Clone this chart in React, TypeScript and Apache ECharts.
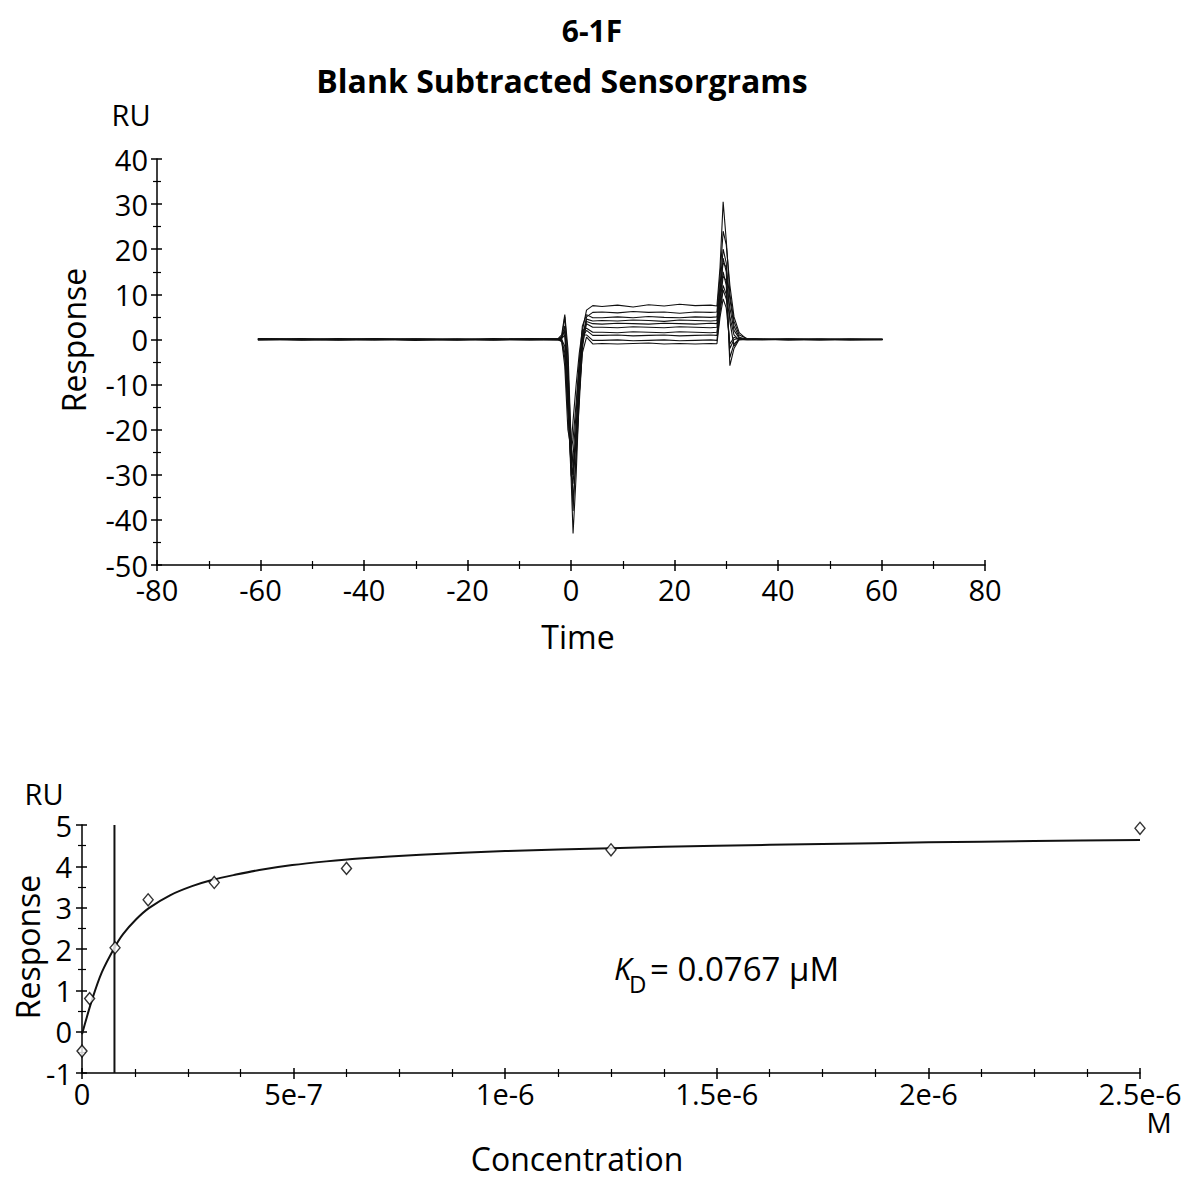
import React, { useEffect, useRef } from "react";
import * as echarts from "echarts";

// ---------- Top panel: blank subtracted sensorgrams ----------
const TIME = [
  -60.5, -52, -45, -38, -30, -22, -15, -8, -2.5, -1.8, -1.2, -0.6, 0, 0.4, 1.0, 1.6, 2.2, 3.0, 4.2,
  6, 9, 12, 15, 18, 21, 24, 27, 28.2, 28.8, 29.4, 30, 30.7, 31.5, 32.5, 34, 37, 42, 48, 54, 60.2,
];

const RESP_A = [0.2, -0.1, 0.2, 0, -0.2, 0.1, 0, 0.2, 0.1, 0.5, 3, -10, -26, -30, -20, -8, 2, 6.5, 7.5, 7.3, 7.6, 7.2, 7.7, 7.4, 7.8, 7.5, 7.6, 7.4, 16, 30.5, 22, 10, 4, 1, 0.2, 0.1, -0.1, 0, 0.1, 0];
const RESP_B = [0, 0.2, -0.1, 0.1, 0, -0.1, 0.2, 0, -0.1, 0.3, 5, -4, -30, -43, -30, -12, 0, 5, 6.0, 6.1, 5.9, 6.2, 6.0, 6.1, 5.8, 6.1, 6.0, 6.1, 14, 24, 21, 12, 5, 1.5, 0, 0, 0.1, -0.1, 0, 0.1];
const RESP_C = [-0.1, 0, 0.1, -0.1, 0.1, 0, -0.1, 0.1, 0, -0.5, -4, -16, -28, -26, -16, -5, 3, 5.5, 4.8, 4.8, 5.0, 4.8, 5.1, 4.9, 4.8, 5.0, 4.9, 5.0, 12, 20, 17, 4, -1.5, 0.2, 0.1, 0, 0, 0.1, -0.1, 0];
const RESP_D = [0.1, -0.1, 0, 0.2, 0, 0.1, -0.1, 0, 0.2, 1, 5.5, -2, -22, -36, -26, -14, -2, 4.5, 4.1, 4.2, 4.1, 4.3, 4.2, 4.0, 4.3, 4.2, 4.1, 4.2, 10, 18, 15, -5.8, -2, 0, 0.1, 0.1, 0, -0.1, 0.1, 0];
const RESP_E = [0, 0.1, 0, -0.1, 0.1, 0, 0.1, -0.1, 0, 0, -3, -14, -30, -32, -22, -10, 1, 4, 3.5, 3.4, 3.6, 3.5, 3.4, 3.6, 3.5, 3.4, 3.6, 3.5, 11, 17, 16, 9, 3, 0.5, 0, -0.1, 0.1, 0, 0, 0.1];
const RESP_F = [0.2, 0, -0.1, 0, 0.1, -0.1, 0, 0.1, 0.1, 0.5, 2, -8, -26, -38, -25, -12, -1, 3.5, 2.7, 2.7, 2.6, 2.8, 2.7, 2.6, 2.8, 2.7, 2.6, 2.7, 9, 15, 12, -4, -1, 0.1, -0.1, 0, 0.1, 0, -0.1, 0];
const RESP_G = [-0.1, 0.1, 0, 0.1, -0.1, 0, 0.1, 0, -0.1, -0.3, -6, -20, -24, -18, -10, -3, 2, 2.5, 1.6, 1.6, 1.5, 1.7, 1.6, 1.5, 1.7, 1.6, 1.5, 1.6, 8, 14, 13, 7, 2, 0.3, 0.1, 0, 0, 0.1, 0, -0.1];
const RESP_H = [0.1, 0, 0.1, 0, 0, 0.1, -0.1, 0.1, 0, 0.2, 1, -12, -28, -30, -19, -7, 0.5, 2, 0.9, 0.9, 1.0, 0.8, 0.9, 1.0, 0.8, 0.9, 1.0, 0.9, 7, 12, 10, -2, 0, 0.2, 0, 0.1, 0, 0, 0.1, 0];
const RESP_I = [0, -0.1, 0, 0.1, 0, -0.1, 0, 0, 0.1, 0, -1.5, -15, -25, -22, -14, -5, 1, 1, -0.2, -0.2, -0.1, -0.3, -0.2, -0.1, -0.3, -0.2, -0.1, -0.2, 6, 11, 9, 5, 1, -0.1, 0, 0, -0.1, 0.1, 0, 0];
const RESP_J = [0.1, 0, -0.1, 0, 0.1, 0, 0, -0.1, 0.1, 0.4, 2, -6, -22, -28, -22, -12, -3, 0.5, -1.0, -0.9, -1.0, -0.9, -0.8, -1.0, -0.9, -1.0, -0.9, -0.95, 5, 9, 7, -1, 0.5, 0, 0.1, 0, 0.1, 0, 0, 0];

const SENSORGRAMS = [RESP_A, RESP_B, RESP_C, RESP_D, RESP_E, RESP_F, RESP_G, RESP_H, RESP_I, RESP_J];

// ---------- Bottom panel: steady-state affinity ----------
const CONC_POINTS = [0, 1.8e-8, 7.81e-8, 1.5625e-7, 3.125e-7, 6.25e-7, 1.25e-6, 2.5e-6];
const RESP_POINTS = [-0.47, 0.8, 2.03, 3.19, 3.61, 3.95, 4.4, 4.92];

const FIT_CONC = [0, 2.4e-8, 4.7e-8, 7.6e-8, 9.7e-8, 1.28e-7, 1.58e-7, 2.08e-7, 2.6e-7, 3.07e-7, 3.64e-7, 4.19e-7, 4.97e-7, 5.77e-7, 6.55e-7, 8e-7, 1e-6, 1.25e-6, 1.5e-6, 1.75e-6, 2e-6, 2.25e-6, 2.5e-6];
const FIT_RESP = [-0.06, 0.78, 1.44, 2.02, 2.36, 2.72, 2.99, 3.3, 3.52, 3.67, 3.8, 3.91, 4.03, 4.12, 4.19, 4.28, 4.37, 4.44, 4.5, 4.54, 4.58, 4.61, 4.64];

const KD_M = 7.67e-8;
const RESP_RANGE = [-1, 5];

const TITLE = "6-1F";
const SUBTITLE = "Blank Subtracted Sensorgrams";

const FONT = "Open Sans";
const TICK_FS = 29;
const NAME_FS = 32;

function concLabel(v: number): string {
  if (Math.abs(v) < 1e-15) return "0";
  return Number(v.toPrecision(6)).toExponential();
}

function axisPair(
  dim: "x" | "y",
  gridIndex: number,
  min: number,
  max: number,
  interval: number,
  minorSplit: number,
  labelMargin: number,
  formatter?: (v: number) => string
) {
  const pos = dim === "x" ? "bottom" : "left";
  const line = { color: "#000", width: 1.5 };
  const main: any = {
    type: "value",
    gridIndex,
    position: pos,
    min,
    max,
    interval,
    splitLine: { show: false },
    axisLine: { show: true, onZero: false, lineStyle: line },
    axisTick: { show: true, inside: false, length: 6, lineStyle: line },
    minorTick: { show: true, splitNumber: minorSplit, length: 4, lineStyle: { color: "#000", width: 1.2 } },
    axisLabel: {
      show: true,
      color: "#000",
      fontFamily: FONT,
      fontSize: TICK_FS,
      margin: labelMargin,
      showMinLabel: true,
      showMaxLabel: true,
      hideOverlap: false,
      formatter: formatter ? (v: number) => formatter(v) : undefined,
    },
  };
  const inner: any = {
    type: "value",
    gridIndex,
    position: pos,
    offset: 0,
    min,
    max,
    interval,
    splitLine: { show: false },
    axisLine: { show: false, onZero: false },
    axisTick: { show: true, inside: true, length: 5, lineStyle: line },
    minorTick: { show: true, splitNumber: minorSplit, length: 4, lineStyle: { color: "#000", width: 1.2 } },
    axisLabel: { show: false },
  };
  return [main, inner];
}

function txt(text: string, x: number, y: number, extra: any = {}) {
  const size = extra.size || NAME_FS;
  return {
    type: "text",
    x,
    y,
    rotation: extra.rotation || 0,
    style: {
      text,
      fill: "#000",
      fontFamily: FONT,
      fontSize: size,
      fontWeight: extra.weight || "normal",
      fontStyle: extra.style || "normal",
      align: extra.align || "center",
      verticalAlign: "middle",
    },
  };
}

export default function App() {
  const ref = useRef<HTMLDivElement>(null);

  useEffect(() => {
    document.body.style.margin = "0";
    if (!ref.current) return;
    const chart = echarts.init(ref.current, null, { renderer: "svg" });

    const [tx0, tx1] = axisPair("x", 0, -80, 80, 20, 2, 10);
    const [ty0, ty1] = axisPair("y", 0, -50, 40, 10, 2, 9);
    const [bx0, bx1] = axisPair("x", 1, 0, 2.5e-6, 5e-7, 4, 6, concLabel);
    const [by0, by1] = axisPair("y", 1, -1, 5, 1, 2, 10);

    const sensorSeries = SENSORGRAMS.map((arr, k) => ({
      name: "S" + k,
      type: "line",
      xAxisIndex: 0,
      yAxisIndex: 0,
      showSymbol: false,
      symbol: "none",
      data: TIME.map((t, i) => [t, arr[i]]),
      lineStyle: { color: "#111", width: 1.1 },
      z: 3,
    }));

    const option: any = {
      animation: false,
      backgroundColor: "#fff",
      grid: [
        { left: 157, top: 159, width: 828, height: 406, containLabel: false },
        { left: 82, top: 825, width: 1058, height: 248, containLabel: false },
      ],
      xAxis: [tx0, tx1, bx0, bx1],
      yAxis: [ty0, ty1, by0, by1],
      series: [
        ...sensorSeries,
        {
          name: "kd",
          type: "line",
          xAxisIndex: 2,
          yAxisIndex: 2,
          showSymbol: false,
          symbol: "none",
          data: RESP_RANGE.map((r) => [KD_M, r]),
          lineStyle: { color: "#111", width: 2 },
          z: 2,
        },
        {
          name: "fit",
          type: "line",
          xAxisIndex: 2,
          yAxisIndex: 2,
          showSymbol: false,
          symbol: "none",
          smooth: 0.3,
          data: FIT_CONC.map((c, i) => [c, FIT_RESP[i]]),
          lineStyle: { color: "#111", width: 2 },
          z: 3,
        },
        {
          name: "points",
          type: "scatter",
          xAxisIndex: 2,
          yAxisIndex: 2,
          symbol: "diamond",
          symbolSize: [10, 12],
          data: CONC_POINTS.map((c, i) => [c, RESP_POINTS[i]]),
          itemStyle: { color: "#fff", borderColor: "#000", borderWidth: 1.4 },
          z: 5,
        },
      ],
      graphic: [
        txt(TITLE, 592, 30, { weight: "bold", size: 30 }),
        txt(SUBTITLE, 562, 80, { weight: "bold", size: 32 }),
        txt("RU", 131, 114, { size: 29 }),
        txt("Response", 73, 340, { rotation: Math.PI / 2 }),
        txt("Time", 578, 636),
        txt("RU", 44, 793, { size: 29 }),
        txt("Response", 27, 947, { rotation: Math.PI / 2 }),
        txt("M", 1159, 1122, { size: 28 }),
        txt("Concentration", 577, 1158),
        txt("K", 614, 968, { style: "italic", size: 31, align: "left" }),
        txt("D", 629, 983, { size: 24, align: "left" }),
        txt("= 0.0767 µM", 650, 968, { size: 33, align: "left" }),
      ],
    };

    chart.setOption(option);
    return () => chart.dispose();
  }, []);

  return <div ref={ref} style={{ width: 1185, height: 1178, background: "#fff" }} />;
}
